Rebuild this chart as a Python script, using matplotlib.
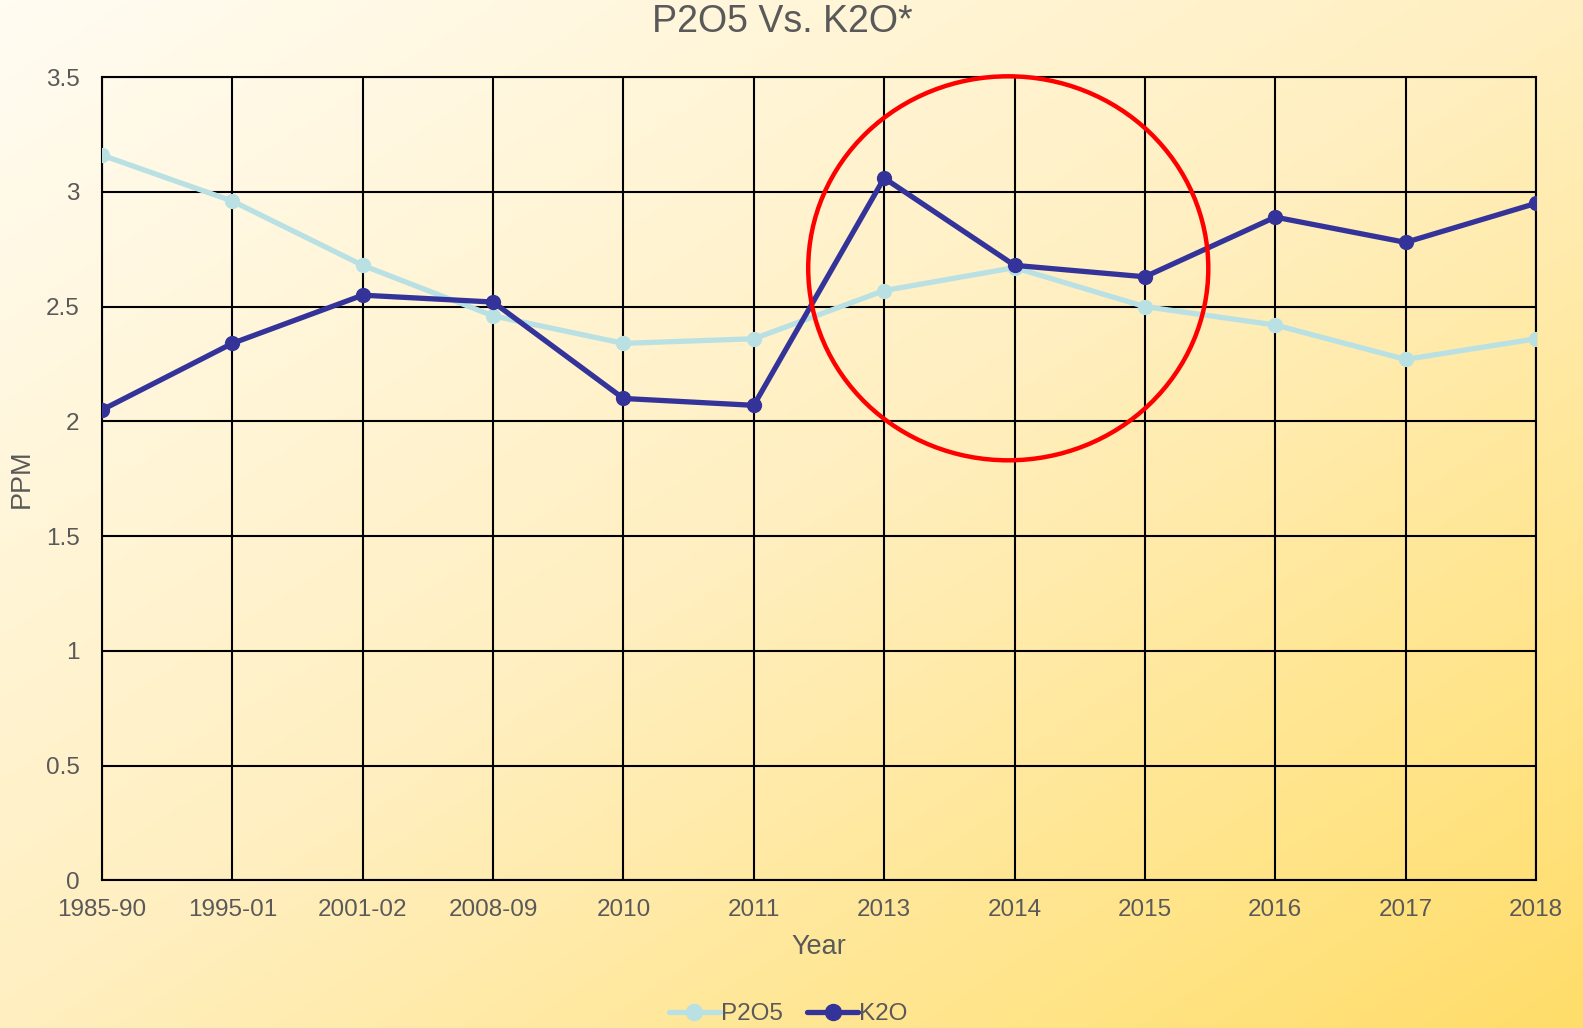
import matplotlib

matplotlib.use("Agg")
import matplotlib.pyplot as plt
import numpy as np
from matplotlib.colors import LinearSegmentedColormap
from matplotlib.patches import Ellipse

years = ["1985-90", "1995-01", "2001-02", "2008-09", "2010", "2011",
         "2013", "2014", "2015", "2016", "2017", "2018"]
p2o5 = [3.16, 2.96, 2.68, 2.46, 2.34, 2.36, 2.57, 2.67, 2.50, 2.42, 2.27, 2.36]
k2o = [2.05, 2.34, 2.55, 2.52, 2.10, 2.07, 3.06, 2.68, 2.63, 2.89, 2.78, 2.95]
y_ticks = [0, 0.5, 1, 1.5, 2, 2.5, 3, 3.5]

_LIGHT = "#B9E1E4"
_DARK = "#343399"
_TEXT = "#595959"

plt.rcParams["font.family"] = ["Liberation Sans", "DejaVu Sans"]

fig = plt.figure(figsize=(15.83, 10.28), dpi=100)

# diagonal background gradient, pale cream top-left to yellow bottom-right
bg = fig.add_axes([0, 0, 1, 1], zorder=-10)
gx, gy = np.meshgrid(np.linspace(0, 1, 400), np.linspace(0, 1, 300))
grad = 0.5 * gx + 0.5 * gy
cmap = LinearSegmentedColormap.from_list(
    "bg", [(0.0, "#FFFCF2"), (0.5, "#FFEFC0"), (0.85, "#FFE383"),
           (1.0, "#FFDD6A")])
bg.imshow(grad, cmap=cmap, aspect="auto", extent=[0, 1, 0, 1], origin="upper")
bg.axis("off")

ax = fig.add_axes([0.0644, 0.1435, 0.9059, 0.7815])
ax.patch.set_alpha(0)
x = np.arange(len(years))
ax.plot(x, p2o5, color=_LIGHT, linewidth=3.8, marker="o", markersize=10,
        label="P2O5", zorder=3, solid_capstyle="round")
ax.plot(x, k2o, color=_DARK, linewidth=3.8, marker="o", markersize=10,
        label="K2O", zorder=4, solid_capstyle="round")

ax.set_xlim(0, len(years) - 1)
ax.set_ylim(0, 3.5)
ax.set_xticks(x)
ax.set_xticklabels(years)
ax.set_yticks(y_ticks)
ax.set_yticklabels([f"{t:g}" for t in y_ticks])
ax.grid(True, color="black", linewidth=1.5)
for spine in ax.spines.values():
    spine.set_color("black")
    spine.set_linewidth(1.5)
ax.tick_params(length=0, labelsize=17.5, labelcolor=_TEXT, pad=13)
ax.tick_params(axis="y", pad=16)

ax.set_xlabel("Year", fontsize=19.5, color=_TEXT)
ax.set_ylabel("PPM", fontsize=19.5, color=_TEXT)
ax.xaxis.set_label_coords(0.5, -0.067)
ax.yaxis.set_label_coords(-0.0467, 0.5)
fig.text(0.494, 0.979, "P2O5 Vs. K2O*", fontsize=27, color=_TEXT,
         ha="center", va="center")

# red highlight circle around 2013-2015
ax.add_patch(Ellipse((0.632, 0.762), 0.279, 0.478, transform=ax.transAxes,
                     fill=False, edgecolor="#FF0000", linewidth=3.2,
                     clip_on=False, zorder=6))

leg = fig.legend(loc="center", bbox_to_anchor=(0.498, 0.0136), ncol=2,
                 frameon=False, fontsize=17.5, handlelength=2.1,
                 handletextpad=0.05, columnspacing=1.0, markerscale=1.15)
for text in leg.get_texts():
    text.set_color(_TEXT)

fig.savefig("out.png", dpi=100)
